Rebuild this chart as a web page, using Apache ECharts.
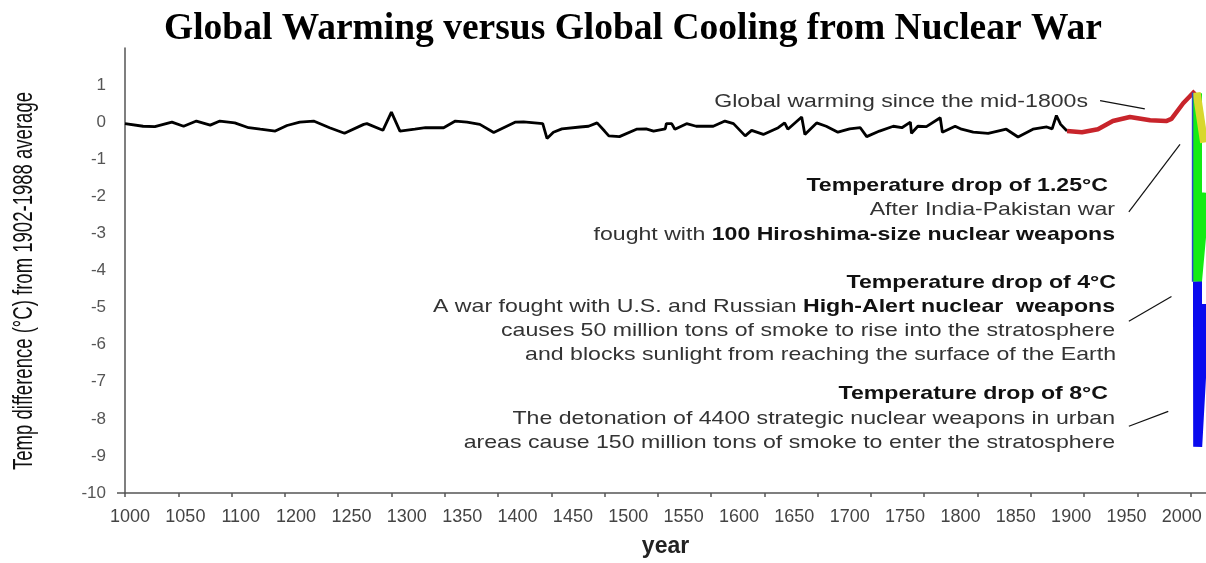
<!DOCTYPE html>
<html>
<head>
<meta charset="utf-8">
<script src="https://cdn.jsdelivr.net/npm/echarts@6/dist/echarts.min.js"></script>
<style>
html,body{margin:0;padding:0;background:#fff;}
#c{width:1206px;height:563px;}
</style>
</head>
<body>
<div id="c"></div>
<script>
// ---- data ----
const tickLabels = ['1000','1050','1100','1200','1250','1300','1350','1400','1450','1500','1550','1600','1650','1700','1750','1800','1850','1900','1950','2000'];
const yTickValues = [-10,-9,-8,-7,-6,-5,-4,-3,-2,-1,0,1];

const pastYears = [1000,1017,1028,1044,1055,1067,1080,1089,1103,1116,1127,1141,1152,1164,1177,1192,1206,1224,1227,1242,1250,1258,1272,1282,1299,1310,1321,1333,1346,1366,1374,1392,1396,1402,1410,1427,1435,1443,1450,1454,1464,1480,1489,1496,1507,1508,1513,1516,1527,1536,1552,1563,1571,1582,1588,1599,1613,1619,1622,1635,1638,1649,1658,1669,1680,1690,1696,1708,1721,1729,1737,1738,1744,1752,1765,1767,1779,1785,1796,1810,1827,1838,1852,1865,1870,1874,1878,1884];
const pastTemps = [-0.04,-0.11,-0.12,0.00,-0.11,0.03,-0.08,0.03,-0.02,-0.15,-0.19,-0.24,-0.09,0.00,0.03,-0.15,-0.30,-0.06,-0.04,-0.22,0.27,-0.24,-0.19,-0.15,-0.15,0.03,0.00,-0.06,-0.28,0.00,0.01,-0.04,-0.44,-0.27,-0.18,-0.13,-0.11,-0.02,-0.24,-0.37,-0.39,-0.19,-0.18,-0.24,-0.18,-0.04,-0.04,-0.19,-0.04,-0.11,-0.11,0.03,-0.04,-0.37,-0.22,-0.33,-0.15,-0.02,-0.19,0.14,-0.33,-0.02,-0.11,-0.27,-0.18,-0.15,-0.39,-0.24,-0.11,-0.15,0.00,-0.30,-0.11,-0.12,0.12,-0.27,-0.11,-0.19,-0.27,-0.30,-0.19,-0.40,-0.19,-0.13,-0.18,0.18,-0.06,-0.24];

const warmYears = [1884,1898,1913,1927,1943,1962,1977,1982,1993,2004];
const warmTemps = [-0.24,-0.27,-0.19,0.03,0.14,0.05,0.03,0.09,0.51,0.84];

const smallWarYears = [2005.6,2012.6];
const smallWarTemps = [0.8,-0.55];
const midWarYears = [2006.4,2006.4,2014];
const midWarTemps = [0.78,-4.3,-1.9];
const bigWarYears = [2006.4,2006.6,2014];
const bigWarTemps = [-4.3,-8.75,-4.9];
const edgeYears = [2001.8,2001.8];
const edgeTemps = [0.8,-4.3];

// arrows: [fromYear, fromTemp, toYear, toTemp]
const arrowWarming = [1915,0.58,1957,0.36];
const arrow125 = [1942,-2.42,1990,-0.6];
const arrow4 = [1942,-5.37,1982,-4.70];
const arrow8 = [1942,-8.2,1979,-7.8];

// ---- helpers ----
const zip = (xs, ys) => xs.map((x, i) => [x, ys[i]]);
const tickYears = [];
for (let y = 1000; y <= 2000; y += 50) tickYears.push(y);
const labelStart = 1004.7, labelStep = 51.95;
const labelYears = tickLabels.map((_, i) => +(labelStart + labelStep * i).toFixed(2));
const labelMap = {};
labelYears.forEach((v, i) => { labelMap[v] = tickLabels[i]; });
const arrowPair = a => [{coord:[a[0],a[1]]},{coord:[a[2],a[3]]}];

const sans = "'Liberation Sans', Arial, sans-serif";
const cvs = document.createElement('canvas').getContext('2d');
function measure(font, s) { cvs.font = font; return cvs.measureText(s).width; }

// annotation text stretch: reference long line spans ~682px
const annSize = 19;
const fNorm = annSize + "px 'Liberation Sans'";
const fBold = "bold " + annSize + "px 'Liberation Sans'";
const refLine = measure(fNorm, 'A war fought with U.S. and Russian ') + measure(fBold, 'High-Alert nuclear  weapons');
const annScale = 682 / refLine;

// y-axis name stretch
const yNameText = 'Temp difference (°C) from 1902-1988 average';
const yNameSize = 27;
const yNameScale = 378 / measure(yNameSize + "px 'Liberation Sans'", yNameText);

function ann(text, x, y, bold) {
  return {
    type: 'text', x: x, y: y, scaleX: annScale, silent: true,
    style: {
      text: text, x: 0, y: 0, align: 'right', verticalAlign: 'middle',
      fontFamily: sans, fontSize: annSize, fontWeight: bold ? 'bold' : 'normal',
      fill: bold ? '#111' : '#333',
      rich: { b: { fontFamily: sans, fontSize: annSize, fontWeight: 'bold', fill: '#111' } }
    }
  };
}

const chart = echarts.init(document.getElementById('c'), null, {renderer:'canvas'});
chart.setOption({
  animation: false,
  backgroundColor: '#fff',
  grid: { left: 125, right: 0, top: 48, bottom: 62, containLabel: false },
  xAxis: {
    type: 'value', min: 1000, max: 2014.4, interval: 50,
    name: 'year', nameLocation: 'middle', nameGap: 42,
    nameTextStyle: { fontFamily: sans, fontSize: 23, fontWeight: 'bold', color: '#222' },
    axisLine: { show: true, onZero: false, lineStyle: { color: '#555', width: 1.5 } },
    axisTick: { show: true, customValues: tickYears, length: 4, lineStyle: { color: '#555', width: 1.5 } },
    axisLabel: {
      customValues: labelYears, margin: 15,
      formatter: v => labelMap[+(+v).toFixed(2)] || '',
      fontFamily: sans, fontSize: 18, color: '#444'
    },
    splitLine: { show: false }
  },
  yAxis: {
    type: 'value', min: -10, max: 2, interval: 1,
    axisLine: { show: true, lineStyle: { color: '#555', width: 1.5 } },
    axisTick: { show: true, customValues: [-10], length: 8, lineStyle: { color: '#555', width: 1.5 } },
    axisLabel: {
      margin: 19, fontFamily: sans, fontSize: 17, color: '#555',
      formatter: v => (yTickValues.indexOf(v) >= 0 ? String(v) : '')
    },
    splitLine: { show: true, showMinLine: false, showMaxLine: false, lineStyle: { color: '#aaa', width: 1, type: [3, 3] } }
  },
  series: [
    { type: 'line', data: zip(pastYears, pastTemps), showSymbol: false, symbol: 'none',
      lineStyle: { color: '#000', width: 2.8 }, z: 3 },
    { type: 'line', data: zip(warmYears, warmTemps), showSymbol: false, symbol: 'none',
      lineStyle: { color: '#c8242b', width: 4.5 }, z: 4 },
    { type: 'line', data: zip(midWarYears, midWarTemps), showSymbol: false, symbol: 'none',
      lineStyle: { color: '#14ec14', width: 9, join: 'miter' }, z: 3 },
    { type: 'line', data: zip(bigWarYears, bigWarTemps), showSymbol: false, symbol: 'none',
      lineStyle: { color: '#0a0aee', width: 9, join: 'miter' }, z: 3 },
    { type: 'line', data: zip(smallWarYears, smallWarTemps), showSymbol: false, symbol: 'none',
      lineStyle: { color: '#d8d82e', width: 8 }, z: 5 },
    { type: 'line', data: zip(edgeYears, edgeTemps), showSymbol: false, symbol: 'none',
      lineStyle: { color: '#2a48c8', width: 1.5 }, z: 5 },
    { type: 'line', data: [], silent: true,
      markLine: {
        silent: true, animation: false, symbol: ['none', 'arrow'], symbolSize: [0, 9],
        label: { show: false },
        lineStyle: { color: '#111', width: 1.2, type: 'solid' },
        emphasis: { disabled: true },
        data: [arrowPair(arrowWarming), arrowPair(arrow125), arrowPair(arrow4), arrowPair(arrow8)]
      }
    }
  ],
  graphic: [
    { type: 'text', x: 164, y: 29, silent: true,
      style: { text: 'Global Warming versus Global Cooling from Nuclear War', align: 'left', verticalAlign: 'middle',
        fontFamily: "'Liberation Serif', 'Times New Roman', serif", fontWeight: 'bold', fontSize: 37.5, fill: '#000' } },
    { type: 'text', x: 25, y: 281, rotation: Math.PI / 2, scaleX: yNameScale, silent: true,
      style: { text: yNameText, x: 0, y: 0, align: 'center', verticalAlign: 'middle',
        fontFamily: sans, fontSize: yNameSize, fill: '#111' } },
    ann('Global warming since the mid-1800s', 1088, 102, false),
    ann('Temperature drop of 1.25°C', 1108, 186, true),
    ann('After India-Pakistan war', 1115, 210, false),
    ann('fought with {b|100 Hiroshima-size nuclear weapons}', 1115, 235, false),
    ann('Temperature drop of 4°C', 1116, 283, true),
    ann('A war fought with U.S. and Russian {b|High-Alert nuclear  weapons}', 1115, 307, false),
    ann('causes 50 million tons of smoke to rise into the stratosphere', 1115, 331, false),
    ann('and blocks sunlight from reaching the surface of the Earth', 1116, 355, false),
    ann('Temperature drop of 8°C', 1108, 394, true),
    ann('The detonation of 4400 strategic nuclear weapons in urban', 1115, 419, false),
    ann('areas cause 150 million tons of smoke to enter the stratosphere', 1115, 443, false)
  ]
});
</script>
</body>
</html>
